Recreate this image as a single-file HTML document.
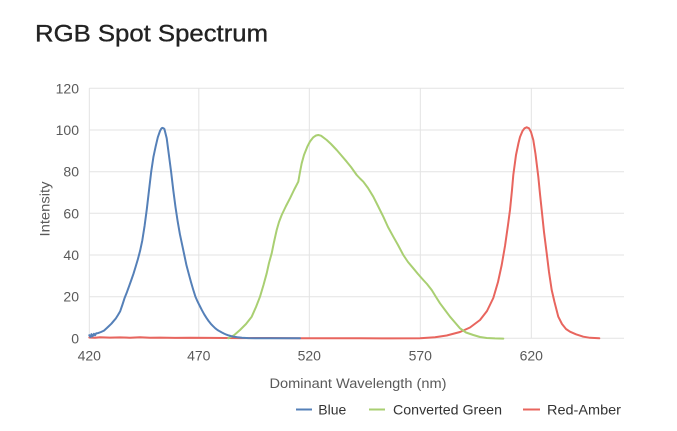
<!DOCTYPE html>
<html><head><meta charset="utf-8"><style>
html,body{margin:0;padding:0;background:#fff;}
svg{display:block;font-family:"Liberation Sans",sans-serif;}
</style></head><body>
<svg width="677" height="431" viewBox="0 0 677 431" xmlns="http://www.w3.org/2000/svg">
<rect width="677" height="431" fill="#fff"/>
<text x="35" y="41.5" font-size="24" fill="#222" stroke="#222" stroke-width="0.35" textLength="233" lengthAdjust="spacingAndGlyphs">RGB Spot Spectrum</text>
<g stroke="#e3e3e3" stroke-width="1">
<line x1="89.3" y1="88.3" x2="624" y2="88.3"/>
<line x1="89.3" y1="130" x2="624" y2="130"/>
<line x1="89.3" y1="171.7" x2="624" y2="171.7"/>
<line x1="89.3" y1="213.3" x2="624" y2="213.3"/>
<line x1="89.3" y1="255" x2="624" y2="255"/>
<line x1="89.3" y1="296.7" x2="624" y2="296.7"/>
<line x1="89.3" y1="338.3" x2="624" y2="338.3"/>
<line x1="89.3" y1="88.3" x2="89.3" y2="338.3"/>
<line x1="198.8" y1="88.3" x2="198.8" y2="338.3"/>
<line x1="309.3" y1="88.3" x2="309.3" y2="338.3"/>
<line x1="420.3" y1="88.3" x2="420.3" y2="338.3"/>
<line x1="531.3" y1="88.3" x2="531.3" y2="338.3"/>
</g>
<g font-size="14" fill="#5a5a5a" text-anchor="end">
<text x="79" y="93.3">120</text>
<text x="79" y="135">100</text>
<text x="79" y="176.7">80</text>
<text x="79" y="218.3">60</text>
<text x="79" y="260">40</text>
<text x="79" y="301.7">20</text>
<text x="79" y="343.3">0</text>
</g>
<g font-size="14" fill="#5a5a5a" text-anchor="middle">
<text x="89.3" y="360.5">420</text>
<text x="198.8" y="360.5">470</text>
<text x="309.3" y="360.5">520</text>
<text x="420.3" y="360.5">570</text>
<text x="531.3" y="360.5">620</text>
</g>
<text x="358" y="388" font-size="13.5" fill="#5a5a5a" text-anchor="middle" textLength="177" lengthAdjust="spacingAndGlyphs">Dominant Wavelength (nm)</text>
<text transform="translate(49.5,209) rotate(-90)" font-size="13.5" fill="#5a5a5a" text-anchor="middle" textLength="55" lengthAdjust="spacingAndGlyphs">Intensity</text>

<g fill="none" stroke-width="2" stroke-linejoin="round" stroke-linecap="round">
<!-- Red-Amber -->
<polyline stroke="#e8655e" points="89.3,337.5 95,337.8 100,337.3 110,337.6 120,337.4 130,337.7 140,337.2 150,337.8 160,337.6 175,337.9 190,337.7 210,337.9 240,338.1 270,338 300,338.2 330,338.3 360,338.3 390,338.4 420,338.2 435,337.3 446.7,335.5 460,332 470,327.5 480,320 487,311 493.3,298 498,282 501.7,265 505,246 508,225 510,210 512,190 513.3,175 516,155 518.5,143 520,137 522.5,131 524.5,128.3 526.7,127.3 529,128.3 531,132 533.3,140 535.5,154 538.3,176.7 540,194 541.7,210 544,232 546.7,253.3 549,272 551.7,290 554.5,302 558.3,316.7 562,324 566,329 570,331.7 576,334.3 583.3,336.7 590,337.8 599.3,338.3"/>
<!-- Converted Green -->
<polyline stroke="#a9cf72" points="228.3,338.3 234,335.3 240,330 246,324 251.7,316.7 256,307 260,296.7 263.5,285 266.7,273.3 269,263 271.7,253.3 274,242 276.7,230 279,222 281.7,215 286,206 290,198.3 294,190 298.3,181.7 300,172 301.7,163.3 304,155 307.3,146.7 310,141.5 313.3,137.3 316,135.5 318.3,135 321,135.7 323,137.2 326.7,140 331,144 336.7,150 341,155 346.7,161.7 351,167 356.7,175 360,178.5 363.3,181.7 368,188 373.3,196.7 378,206 383.3,216.7 388,227 393.3,236.7 398,245 403.3,255 408,262 413.3,268.3 418,274 423.3,280 427,284 431.7,290 436,297 440,303.3 445,310 450,316.7 455,322.5 460,328.3 466,332.5 473.3,335 480,337 486.7,338 495,338.4 503.3,338.6"/>
<!-- Blue -->
<polyline stroke="#5580b8" points="89.3,335.2 90.5,337 91.5,334.2 92.5,336.3 94,333.8 95,335.3 96.2,333.4 98.1,333.1 101,332 104,330.6 107,327.9 109,326 111.4,323.7 113.5,321.2 115.8,318.5 118,315 120.2,311.2 122.5,304.5 124.7,297.7 126.9,292.2 129.1,286.2 131.3,280 133.5,273.7 135.7,266.5 137.9,259.1 140.1,250.8 142.3,240.4 144.6,225.8 146.8,209.2 149,190.4 151.2,171.7 153.4,157.1 155.6,146.7 157.8,137.3 160,131 161.2,128.8 162.2,127.9 163.4,128.2 164.4,129 166.7,138.3 168.9,155 171.1,171.7 173.3,190.4 175.5,207.1 177.7,221.6 179.9,234.2 182.1,244.6 184.3,255 186.5,265.4 188.8,274 191,282.1 193.2,289.6 195.4,296.6 197.6,301.6 199.8,306 202,310.3 204.2,314.3 206.4,317.8 208.6,321 210.8,323.8 213.1,326.2 215.3,328.3 217.5,330 219.7,331.3 221.9,332.5 224.1,333.6 226.3,334.6 228.5,335.4 230.7,336 234,336.8 237.4,337.3 242,337.8 248.4,338.1 257,338.3 266.1,338.3 300,338.3"/>
</g>

<g stroke-width="2">
<line x1="296" y1="409.5" x2="312" y2="409.5" stroke="#5580b8"/>
<line x1="369" y1="409.5" x2="385" y2="409.5" stroke="#a9cf72"/>
<line x1="523" y1="409.5" x2="540" y2="409.5" stroke="#e8655e"/>
</g>
<g font-size="14" fill="#333">
<text x="318.3" y="414.5" textLength="28" lengthAdjust="spacingAndGlyphs">Blue</text>
<text x="393" y="414.5" textLength="109" lengthAdjust="spacingAndGlyphs">Converted Green</text>
<text x="547" y="414.5" textLength="74" lengthAdjust="spacingAndGlyphs">Red-Amber</text>
</g>
</svg>
</body></html>
